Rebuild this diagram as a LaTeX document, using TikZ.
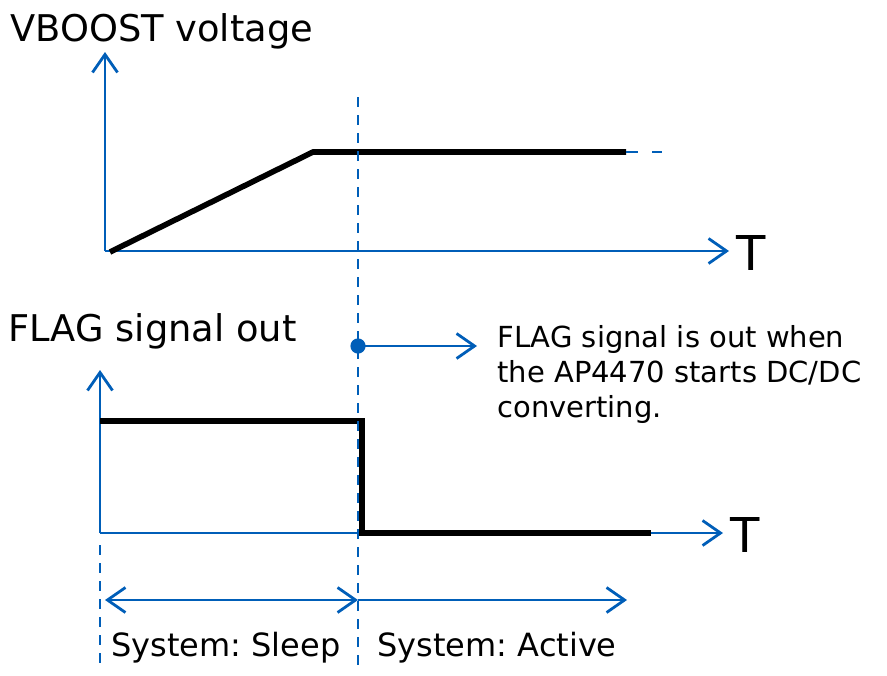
\documentclass[tikz,border=0pt]{standalone}
\usepackage{fontspec}
\setmainfont{DejaVu Sans}
\usetikzlibrary{arrows.meta}
\definecolor{flagblue}{RGB}{0,94,184}

\begin{document}
\begin{tikzpicture}[x=0.5pt,y=-0.5pt,line join=miter,
  barb/.tip={Straight Barb[length=9pt,width=12.5pt,line width=1.4pt]},
  axis/.style={flagblue,line width=1.4pt,-barb},
  guide/.style={flagblue,line width=1.4pt,dash pattern=on 5pt off 4pt},
  trace/.style={black,line width=2.8pt},
  lbl/.style={font=\fontsize{18.4}{22}\selectfont,inner sep=0pt,anchor=west},
  note/.style={font=\fontsize{14.5}{17.5}\selectfont,inner sep=0pt},
  phase/.style={font=\fontsize{16}{19}\selectfont,inner sep=0pt}]
\useasboundingbox (0,0) rectangle (887,675);
% top plot: VBOOST
\coordinate (vo) at (105,251);
\coordinate (vy) at (105,52);
\coordinate (vx) at (729,251);
\node[lbl] (vtitle) at (10,31) {VBOOST voltage};
\draw[axis] (vo) -- (vy);
\draw[axis] (vo) -- (vx);
\node[font=\fontsize{24}{28}\selectfont,inner sep=0pt,anchor=west] (vt) at (736,253) {T};
\coordinate (r0) at (110,252);
\coordinate (r1) at (313,152);
\coordinate (r2) at (626,152);
\coordinate (r3) at (662,152);
\draw[trace] (r0) -- (r1) -- (r2);
\draw[flagblue,line width=1.4pt,dash pattern=on 6pt off 7pt] (r2) -- (r3);
% bottom plot: FLAG
\coordinate (fo) at (100,533);
\coordinate (fy) at (100,370);
\coordinate (fx) at (723,533);
\node[lbl] (ftitle) at (8,331) {FLAG signal out};
\draw[axis] (fo) -- (fy);
\draw[axis] (fo) -- (fx);
\node[font=\fontsize{24}{28}\selectfont,inner sep=0pt,anchor=west] (ft) at (730,535) {T};
\coordinate (s0) at (100,421);
\coordinate (s1) at (362,421);
\coordinate (s2) at (362,533);
\coordinate (s3) at (651,533);
\draw[trace] (s0) -- (s1) -- (s2) -- (s3);
% switching instant
\coordinate (g0) at (358,97);
\coordinate (g1) at (358,672);
\draw[guide] (g0) -- (g1);
\coordinate (l0) at (100,545);
\coordinate (l1) at (100,668);
\draw[guide] (l0) -- (l1);
\coordinate (dot) at (358,346);
\coordinate (pt) at (477,346);
\fill[flagblue] (dot) circle (3.8pt);
\draw[axis] (dot) -- (pt);
\node[note,anchor=north west,align=left] (msg) at (497,325) {FLAG signal is out when\\the AP4470 starts DC/DC\\converting.};
% phases
\coordinate (p0) at (105,600);
\coordinate (p1) at (358,600);
\coordinate (p2) at (627,600);
\draw[axis,barb-barb] (p0) -- (p1);
\draw[axis] (p1) -- (p2);
\node[phase] (sleep) at (226,648) {System:\ Sleep};
\node[phase] (active) at (497,648) {System:\ Active};
\end{tikzpicture}
\end{document}
